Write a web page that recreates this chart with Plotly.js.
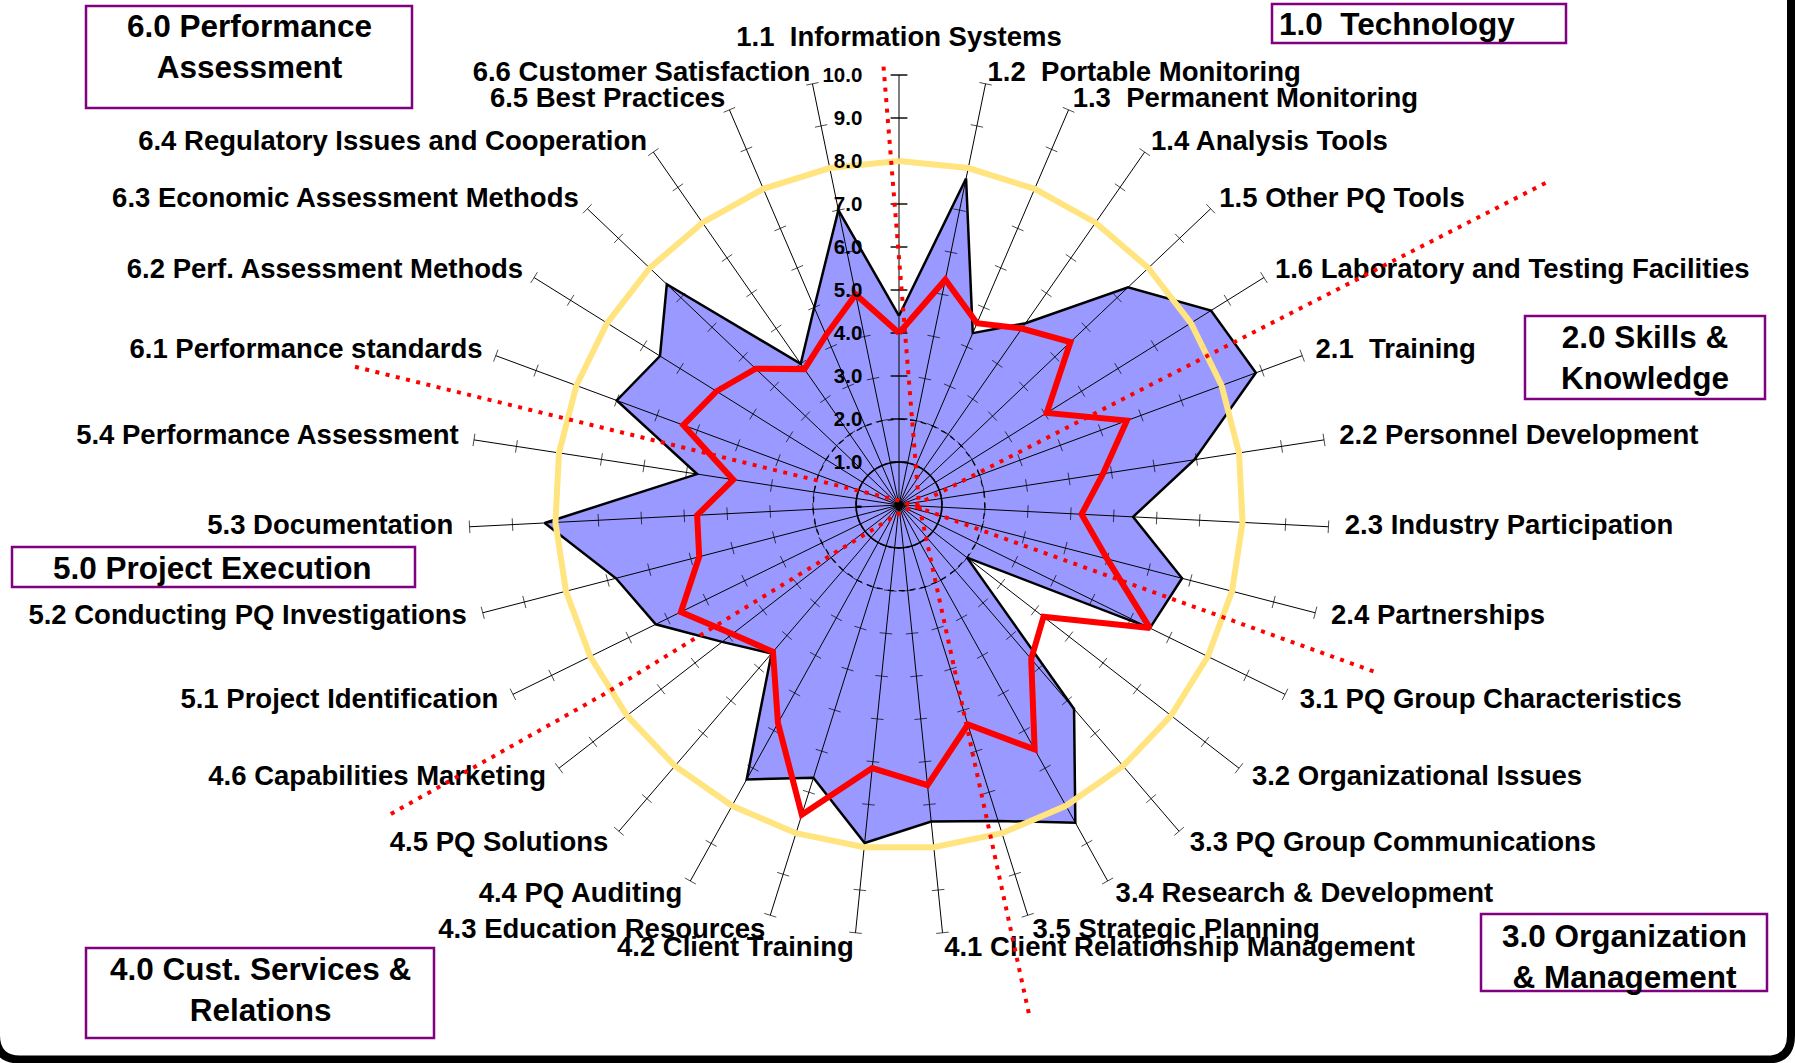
<!DOCTYPE html>
<html>
<head>
<meta charset="utf-8">
<script src="https://cdn.plot.ly/plotly-3.0.1.min.js"></script>
<style>
html, body { margin: 0; padding: 0; background: #ffffff; }
#chart { width: 1795px; height: 1063px; }
</style>
</head>
<body>
<div id="chart"></div>
<script>
// ---------------- DATA ----------------
const categories = [
  "1.1  Information Systems", "1.2  Portable Monitoring", "1.3  Permanent Monitoring",
  "1.4 Analysis Tools", "1.5 Other PQ Tools", "1.6 Laboratory and Testing Facilities",
  "2.1  Training", "2.2 Personnel Development", "2.3 Industry Participation", "2.4 Partnerships",
  "3.1 PQ Group Characteristics", "3.2 Organizational Issues", "3.3 PQ Group Communications",
  "3.4 Research & Development", "3.5 Strategic Planning",
  "4.1 Client Relationship Management", "4.2 Client Training", "4.3 Education Resources",
  "4.4 PQ Auditing", "4.5 PQ Solutions", "4.6 Capabilities Marketing",
  "5.1 Project Identification", "5.2 Conducting PQ Investigations", "5.3 Documentation",
  "5.4 Performance Assessment",
  "6.1 Performance standards", "6.2 Perf. Assessment Methods", "6.3 Economic Assessment Methods",
  "6.4 Regulatory Issues and Cooperation", "6.5 Best Practices", "6.6 Customer Satisfaction"
];

// filled (blue) series
const blueValues = [
  4.4, 7.75, 4.35, 5.15, 7.35, 8.55,
  8.85, 6.95, 5.45, 6.8,
  6.5, 2.0, 6.25, 8.45, 7.7,
  7.4, 7.9, 6.65, 7.3, 4.55, 5.2,
  6.3, 6.8, 8.25, 4.75,
  7.0, 6.55, 7.45, 4.0, 5.0, 7.0
];

// red line series
const redValues = [
  4.0, 5.35, 4.6, 5.0, 5.5, 4.05,
  5.65, 4.8, 4.25, 5.0,
  6.5, 4.25, 4.72, 6.5, 5.35,
  6.55, 6.15, 7.55, 5.8, 4.5, 4.9,
  5.65, 4.8, 4.7, 3.9,
  5.35, 5.0, 4.6, 3.85, 4.3, 5.0
];

const radialTickValues = [0, 1, 2, 3, 4, 5, 6, 7, 8, 9, 10];
const radialTickText = ["-", "1.0", "2.0", "3.0", "4.0", "5.0", "6.0", "7.0", "8.0", "9.0", "10.0"];

const targetLevel = 8;        // gold ring
const solidRingLevel = 1;     // inner solid ring
const dashedRingLevel = 2;    // inner dashed ring

// section divider lines (chart units, measured from the chart centre, y up)
const dividerAX = [-0.36, 0.465, 3.047];
const dividerAY = [10.193, 0.0, -11.953];
const dividerBX = [15.035, 0.0, -6.86, -11.95];
const dividerBY = [7.488, -0.198, -4.4, -7.26];
const dividerCX = [-12.651, 0.0, 11.174];
const dividerCY = [3.214, 0.102, -3.919];

const groupTitles = [
  "6.0 Performance<br>Assessment",
  "1.0  Technology",
  "2.0 Skills &<br>Knowledge",
  "3.0 Organization<br>& Management",
  "5.0 Project Execution",
  "4.0 Cust. Services &<br>Relations"
];

// ---------------- LAYOUT GEOMETRY ----------------
const W = 1795, H = 1063;
const CX = 899, CY = 505;      // centre of the radar, px
const UNIT = 43;               // px per value unit
const RMAX = 11.5;             // radial range shown by the polar subplot
const LABEL_R = 10.38;         // where the category labels sit
const px2x = p => p / W;
const px2y = p => 1 - p / H;

const FONT = "Liberation Sans, Arial, Helvetica, sans-serif";

const nCat = categories.length;
const closeLoop = arr => arr.concat([arr[0]]);
const thetaClosed = closeLoop(categories);
const spokeMax = radialTickValues[radialTickValues.length - 1];
const angleOf = i => i * 360 / nCat;

// spokes
const spokeR = [], spokeT = [];
categories.forEach(c => { spokeR.push(0, spokeMax, null); spokeT.push(c, c, c); });

// tick marks across each spoke
const tickR = [], tickT = [], tickAngle = [], tickSize = [], tickW = [];
categories.forEach((c, i) => {
  radialTickValues.slice(1).forEach(v => {
    tickR.push(v); tickT.push(c);
    tickAngle.push(angleOf(i));
    tickSize.push(i === 0 ? 12 : 9);
    tickW.push(i === 0 ? 2 : 1);
  });
});

// category label placement
const labelPos = categories.map((c, i) => {
  const a = angleOf(i);
  if (a === 0) return "top center";
  return a < 180 ? "middle right" : "middle left";
});
const labelR = categories.map((c, i) => {
  const cosA = Math.cos(angleOf(i) * Math.PI / 180);
  if (i === 0) return LABEL_R + 0.14;
  return LABEL_R - 0.15 * Math.max(0, cosA);
});

const ring = lvl => closeLoop(categories.map(() => lvl));

const traces = [
  { // dummy cartesian trace so the overlay axes exist
    type: "scatter", x: [0], y: [0], mode: "markers",
    marker: { opacity: 0, size: 1 }, hoverinfo: "skip", showlegend: false
  },
  {
    type: "scatterpolar", r: closeLoop(blueValues), theta: thetaClosed,
    mode: "lines", fill: "toself", fillcolor: "#9999FF",
    line: { color: "#000000", width: 2.5 }, hoverinfo: "skip", showlegend: false
  },
  {
    type: "scatterpolar", r: spokeR, theta: spokeT, mode: "lines",
    line: { color: "#000000", width: 1 }, connectgaps: false,
    hoverinfo: "skip", showlegend: false
  },
  {
    type: "scatterpolar", r: tickR, theta: tickT, mode: "markers",
    marker: { symbol: "line-ew", size: tickSize, angle: tickAngle,
              color: "#000000", line: { color: "#000000", width: tickW } },
    hoverinfo: "skip", showlegend: false
  },
  {
    type: "scatterpolar", r: ring(targetLevel), theta: thetaClosed, mode: "lines",
    line: { color: "rgb(255,228,128)", width: 6 }, hoverinfo: "skip", showlegend: false
  },
  {
    type: "scatterpolar", r: ring(solidRingLevel), theta: thetaClosed, mode: "lines",
    line: { color: "#000000", width: 1.5 }, hoverinfo: "skip", showlegend: false
  },
  {
    type: "scatterpolar", r: ring(dashedRingLevel), theta: thetaClosed, mode: "lines",
    line: { color: "#000000", width: 1.2, dash: "6px,5px" }, hoverinfo: "skip", showlegend: false
  },
  {
    type: "scatterpolar", r: closeLoop(redValues), theta: thetaClosed, mode: "lines",
    line: { color: "#FF0000", width: 6 }, hoverinfo: "skip", showlegend: false
  },
  {
    type: "scatterpolar", r: [0], theta: [categories[0]], mode: "markers",
    marker: { color: "#000000", size: 9 }, hoverinfo: "skip", showlegend: false
  },
  {
    type: "scatterpolar", r: labelR, theta: categories,
    mode: "text", text: categories, textposition: labelPos,
    textfont: { family: FONT, size: 27.5, color: "#000000", weight: "bold" },
    cliponaxis: false, hoverinfo: "skip", showlegend: false
  }
];

// dividers as shapes (drawn above everything), in the overlay axes' units
const dividerPath = (xs, ys) => xs.map((x, i) => (i === 0 ? "M" : "L") + x + "," + ys[i]).join(" ");
const dividerStyle = { color: "#FF0000", width: 4, dash: "4px,6.5px" };
const shapes = [
  { type: "path", xref: "x", yref: "y", layer: "above", path: dividerPath(dividerAX, dividerAY), line: dividerStyle },
  { type: "path", xref: "x", yref: "y", layer: "above", path: dividerPath(dividerBX, dividerBY), line: dividerStyle },
  { type: "path", xref: "x", yref: "y", layer: "above", path: dividerPath(dividerCX, dividerCY), line: dividerStyle }
];

// group title boxes (pixel geometry)
const boxGeom = [
  { x0: 86,   y0: 6,   x1: 412,  y1: 108, tx: 249,  ty: 47,  anchor: "center" },
  { x0: 1272, y0: 4,   x1: 1566, y1: 43,  tx: 1277, ty: 24,  anchor: "left" },
  { x0: 1525, y0: 316, x1: 1765, y1: 399, tx: 1645, ty: 357, anchor: "center" },
  { x0: 1481, y0: 914, x1: 1767, y1: 991, tx: 1624, ty: 956, anchor: "center" },
  { x0: 12,   y0: 547, x1: 415,  y1: 587, tx: 212,  ty: 568, anchor: "center" },
  { x0: 86,   y0: 948, x1: 434,  y1: 1038, tx: 260, ty: 989, anchor: "center" }
];
const annotations = [];
boxGeom.forEach((b, i) => {
  shapes.push({
    type: "rect", xref: "paper", yref: "paper", layer: "above",
    x0: px2x(b.x0), x1: px2x(b.x1), y0: px2y(b.y1), y1: px2y(b.y0),
    line: { color: "#800080", width: 2.5 }, fillcolor: "rgba(0,0,0,0)"
  });
  annotations.push({
    xref: "paper", yref: "paper", x: px2x(b.tx), y: px2y(b.ty),
    xanchor: b.anchor, yanchor: "middle", align: "center", showarrow: false,
    text: groupTitles[i],
    font: { family: FONT, size: 31.5, color: "#000000", weight: "bold" }
  });
});

// outer rounded frame (only right and bottom edges fall inside the picture)
const fr = { l: -4, r: 1791, t: -40, b: 1059.5, rad: 24 };
shapes.push({
  type: "path", xref: "paper", yref: "paper", layer: "above",
  path: "M" + px2x(fr.r) + "," + px2y(fr.t) +
        " L" + px2x(fr.r) + "," + px2y(fr.b - fr.rad) +
        " Q" + px2x(fr.r) + "," + px2y(fr.b) + " " + px2x(fr.r - fr.rad) + "," + px2y(fr.b) +
        " L" + px2x(fr.l + fr.rad) + "," + px2y(fr.b) +
        " Q" + px2x(fr.l) + "," + px2y(fr.b) + " " + px2x(fr.l) + "," + px2y(fr.b - fr.rad) +
        " L" + px2x(fr.l) + "," + px2y(fr.t),
  line: { color: "#000000", width: 8 }
});

const layout = {
  width: W, height: H,
  margin: { l: 0, r: 0, t: 0, b: 0, pad: 0 },
  paper_bgcolor: "#ffffff", plot_bgcolor: "rgba(0,0,0,0)",
  showlegend: false,
  xaxis: { domain: [0, 1], range: [-CX / UNIT, (W - CX) / UNIT], visible: false, fixedrange: true },
  yaxis: { domain: [0, 1], range: [-(H - CY) / UNIT, CY / UNIT], visible: false, fixedrange: true },
  polar: {
    domain: {
      x: [(CX - RMAX * UNIT) / W, (CX + RMAX * UNIT) / W],
      y: [1 - (CY + RMAX * UNIT) / H, 1 - (CY - RMAX * UNIT) / H]
    },
    bgcolor: "rgba(0,0,0,0)",
    radialaxis: {
      range: [0, RMAX], angle: 90, side: "counterclockwise", tickangle: 90,
      tickvals: radialTickValues, ticktext: radialTickText,
      ticks: "outside", ticklen: 29, tickcolor: "rgba(0,0,0,0)",
      showline: false, showgrid: false,
      tickfont: { family: FONT, size: 20.5, color: "#000000", weight: "bold" }
    },
    angularaxis: {
      type: "category", categoryarray: categories,
      rotation: 90, direction: "clockwise",
      showgrid: false, showline: false, showticklabels: false, ticks: ""
    }
  },
  shapes: shapes,
  annotations: annotations
};

Plotly.newPlot("chart", traces, layout, { staticPlot: true, displayModeBar: false });
</script>
</body>
</html>
